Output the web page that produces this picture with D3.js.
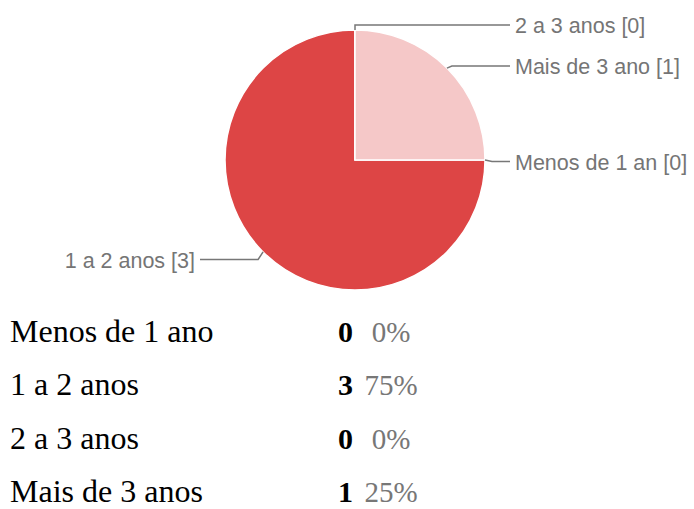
<!DOCTYPE html>
<html>
<head>
<meta charset="utf-8">
<script src="https://cdn.jsdelivr.net/npm/d3@7"></script>
<style>
  html, body { margin: 0; padding: 0; background: #fff; }
  svg { display: block; }
</style>
</head>
<body>
<svg id="chart" width="694" height="509"></svg>
<script>
// ---- data ----
const categories = ["Menos de 1 ano", "1 a 2 anos", "2 a 3 anos", "Mais de 3 anos"];
const pieLabels = ["Menos de 1 an", "1 a 2 anos", "2 a 3 anos", "Mais de 3 ano"];
const counts = [0, 3, 0, 1];
const percents = ["0%", "75%", "0%", "25%"];
const colors = ["#dd4545", "#dd4545", "#dd4545", "#f5c8c8"];

// ---- layout ----
const svg = d3.select("#chart");
const cx = 355, cy = 160, r = 130;
const pie = d3.pie().sort(null).value(d => d).startAngle(Math.PI / 2).endAngle(Math.PI / 2 + 2 * Math.PI);
const arcs = pie(counts);
const arc = d3.arc().innerRadius(0).outerRadius(r);

const g = svg.append("g").attr("transform", `translate(${cx},${cy})`);
g.selectAll("path.slice").data(arcs).enter().append("path")
  .attr("class", "slice")
  .attr("d", arc)
  .attr("fill", (d, i) => colors[i])
  .attr("stroke", "#fff")
  .attr("stroke-width", 1.5);

// label vertical centres (layout)
const labelCenterY = [161.5, 259.5, 25, 66];
const labelFont = "21.5px 'Liberation Sans', Arial, sans-serif";

arcs.forEach((d, i) => {
  const a = (d.startAngle + d.endAngle) / 2;
  const ex = cx + r * Math.sin(a), ey = cy - r * Math.cos(a);
  const ly = labelCenterY[i];
  const bx = cx + (r + 7) * Math.sin(a);
  const right = Math.sin(a) > -0.01;
  const tx = right ? 515 : 195;
  const endX = right ? tx - 5 : tx + 5;
  svg.append("path")
    .attr("d", d3.line()([[ex, ey], [bx, ly], [endX, ly]]))
    .attr("fill", "none")
    .attr("stroke", "#777")
    .attr("stroke-width", 1.5);
  svg.append("text")
    .attr("x", tx)
    .attr("y", ly + 8)
    .attr("text-anchor", right ? "start" : "end")
    .style("font", labelFont)
    .attr("fill", "#757575")
    .text(`${pieLabels[i]} [${counts[i]}]`);
});

// ---- summary table ----
const rowY = d3.scaleLinear().domain([0, 3]).range([342, 502]);
const rows = svg.append("g").selectAll("g").data(categories).enter().append("g");
rows.append("text")
  .attr("x", 10).attr("y", (d, i) => rowY(i))
  .style("font", "32px 'Liberation Serif', 'Times New Roman', serif")
  .attr("fill", "#000")
  .text(d => d);
rows.append("text")
  .attr("x", 338).attr("y", (d, i) => rowY(i))
  .style("font", "bold 30px 'Liberation Serif', 'Times New Roman', serif")
  .attr("fill", "#000")
  .text((d, i) => counts[i]);
rows.append("text")
  .attr("x", 391).attr("y", (d, i) => rowY(i))
  .attr("text-anchor", "middle")
  .style("font", "29px 'Liberation Serif', 'Times New Roman', serif")
  .attr("fill", "#777")
  .text((d, i) => percents[i]);
</script>
</body>
</html>
